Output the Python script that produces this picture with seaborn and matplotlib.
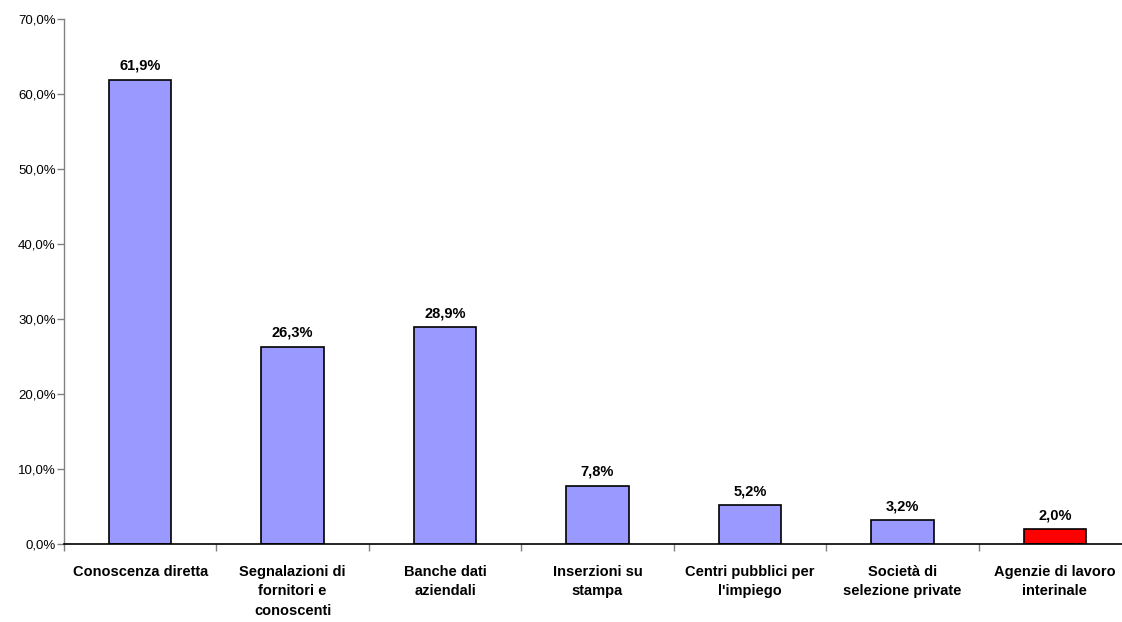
import matplotlib
matplotlib.use("Agg")
import matplotlib.pyplot as plt
import seaborn as sns
import numpy as np
from matplotlib.ticker import FixedLocator, FuncFormatter

categories = [
    "Conoscenza diretta",
    "Segnalazioni di\nfornitori e\nconoscenti",
    "Banche dati\naziendali",
    "Inserzioni su\nstampa",
    "Centri pubblici per\nl'impiego",
    "Società di\nselezione private",
    "Agenzie di lavoro\ninterinale",
]
values = [61.9, 26.3, 28.9, 7.8, 5.2, 3.2, 2.0]
bar_colors = ["#9999FF"] * 6 + ["#FF0000"]

sns.set_theme(style="white")
plt.rcParams["font.family"] = ["Liberation Sans", "DejaVu Sans"]
plt.rcParams["text.color"] = "black"

fig = plt.figure(figsize=(11.22, 6.22), dpi=100)
ax = fig.add_axes([64 / 1122, 78 / 622, 1067 / 1122, 525 / 622])

sns.barplot(x=categories, y=values, hue=categories, palette=bar_colors,
            legend=False, width=0.41, edgecolor="black", linewidth=1.2,
            saturation=1, ax=ax)

ax.set_ylim(0, 70)
ax.set_xlim(-0.5, len(categories) - 0.5)
ax.yaxis.set_major_locator(FixedLocator(np.arange(0, 71, 10)))
ax.yaxis.set_major_formatter(FuncFormatter(lambda v, p: f"{v:.1f}%".replace(".", ",")))
ax.tick_params(axis="y", which="major", left=True, length=5, width=1, color="#808080",
               labelsize=9.5, pad=1, labelcolor="black")

ax.xaxis.set_major_locator(FixedLocator(np.arange(-0.5, len(categories), 1.0)))
ax.xaxis.set_major_formatter(FuncFormatter(lambda v, p: ""))
ax.set_xticks(np.arange(len(categories)), labels=categories, minor=True)
ax.tick_params(axis="x", which="major", bottom=True, length=5, width=1, color="#808080")
ax.tick_params(axis="x", which="minor", bottom=False, length=0, pad=15, labelsize=10.5,
               labelcolor="black")
for lbl in ax.get_xticklabels(minor=True):
    lbl.set_fontweight("bold")
    lbl.set_linespacing(1.5)

for s in ["top", "right"]:
    ax.spines[s].set_visible(False)
ax.spines["left"].set_color("#808080")
ax.spines["bottom"].set_color("black")
ax.spines["left"].set_linewidth(1)
ax.spines["bottom"].set_linewidth(1.2)

ax.set_xlabel("")
ax.set_ylabel("")

for i, v in enumerate(values):
    ax.annotate(f"{v:.1f}%".replace(".", ","), xy=(i, v), xytext=(0, 5),
                textcoords="offset points", ha="center", va="bottom",
                fontsize=10.5, fontweight="bold", color="black")

fig.savefig("out.png", dpi=100)
